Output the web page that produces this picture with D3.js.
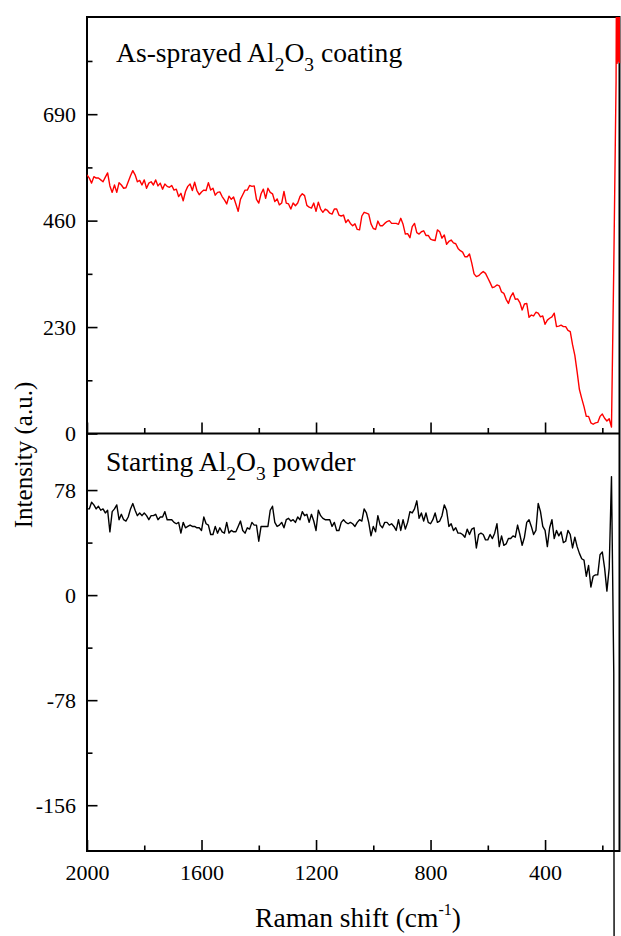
<!DOCTYPE html>
<html>
<head>
<meta charset="utf-8">
<style>
  body { margin: 0; background: #fff; }
  svg { display: block; }
  text { font-family: "Liberation Serif", "Times New Roman", serif; fill: #000; }
</style>
<title>Raman spectra</title>
</head>
<body>
<script src="https://cdn.jsdelivr.net/npm/d3@7/dist/d3.min.js"></script>
<script>

// Raman shift grid (cm-1): every 8 cm-1 from 2000 down to 152, then a finer tail to 140
var shift = d3.range(2000, 151, -8).concat([150, 148, 146, 144, 142, 140]);

// As-sprayed Al2O3 coating (red, upper panel)
var coating = [
  559,552,541,555,552,552,548,544,554,563,
  535,521,537,521,542,537,530,531,544,557,
  568,559,544,547,537,548,530,541,544,537,
  548,535,541,528,539,534,532,536,526,528,
  512,519,503,523,534,539,525,543,525,516,
  522,526,525,542,526,530,515,521,522,512,
  505,496,513,506,511,496,480,506,516,526,
  526,536,534,535,506,498,518,528,508,530,
  521,518,501,507,494,498,523,498,496,485,
  498,492,498,512,518,514,493,489,487,498,
  480,500,485,478,485,482,476,474,485,485,
  472,470,472,456,462,454,449,453,441,440,
  470,478,476,474,453,443,441,459,449,449,
  454,458,460,454,454,454,452,465,452,431,
  432,423,447,454,434,431,436,438,428,428,
  420,418,417,440,436,422,429,409,415,418,
  412,410,400,395,392,382,382,388,368,345,
  339,341,346,350,346,336,326,315,317,321,
  319,306,303,290,281,296,304,290,291,283,
  267,280,281,251,256,254,262,260,252,254,
  236,245,249,252,260,231,232,234,231,231,
  223,220,192,169,133,95,76,58,37,37,
  23,20,23,24,37,42,33,27,32,14,
  360,760,
  1100,800,1100,805,1100,800
];

// Starting Al2O3 powder (black, lower panel)
var powder = [
  64,64,69,67,64,66,63,64,61,63,
  47,62,64,67,56,60,56,55,58,64,
  68,63,59,61,59,61,59,56,59,59,
  60,56,58,58,62,56,56,56,54,53,
  54,46,54,50,51,52,51,51,50,50,
  48,58,53,52,45,45,51,46,50,47,
  46,54,46,48,47,47,51,55,48,46,
  50,49,54,52,52,40,51,51,51,51,
  63,66,54,51,52,54,50,56,57,55,
  56,54,58,56,62,59,60,54,60,55,
  48,63,59,57,56,56,56,51,54,48,
  48,54,56,54,53,54,53,51,54,56,
  55,64,61,54,44,51,47,59,52,50,
  54,54,52,53,51,48,56,48,56,49,
  54,62,61,64,70,57,61,55,61,54,
  53,56,61,54,55,59,67,63,51,53,
  48,50,46,46,45,43,49,45,49,50,
  35,45,46,45,41,41,45,42,46,53,
  36,44,37,38,42,42,44,43,52,45,
  37,43,54,56,51,45,48,68,62,51,
  48,36,50,56,42,48,44,47,39,40,
  48,45,35,43,36,31,27,26,14,22,
  6,14,15,15,30,32,20,3,20,88,
  -58,-1500,
  -1500,-1500,-1500,-1500,-1500,-1500
];

var xTicks = [2000, 1600, 1200, 800, 400];
var xMinor = [1800, 1400, 1000, 600, 200];
var topTicks = [0, 230, 460, 690];
var topMinor = [115, 345, 575, 805];
var botTicks = [78, 0, -78, -156];
var botMinor = [39, -39, -117];

var width = 621, height = 936;
var plotLeft = 87, plotRight = 619.5, plotTop = 17, plotMid = 433.5, plotBottom = 851;

var svg = d3.select("body").append("svg")
	.attr("width", width)
	.attr("height", height);

var x = d3.scaleLinear().domain([2000, 140]).range([plotLeft, plotRight]);
var yTop = d3.scaleLinear().domain([0, 900]).range([plotMid, plotTop]);
var yBot = d3.scaleLinear().domain([-190, 120]).range([plotBottom, plotMid]);

var fmt = function(d) { return String(d); };

function styleAxis(g) {
	g.select(".domain").remove();
	g.attr("font-family", '"Liberation Serif", "Times New Roman", serif')
	 .attr("font-size", 22);
	g.selectAll("line").attr("stroke-width", 1.6);
}

// Y AXES
function yAxis(scale, major, minor) {
	svg.append("g")
		.attr("transform", "translate(" + plotLeft + ",0)")
		.call(d3.axisLeft(scale).tickValues(minor).tickSize(-5.5).tickFormat(""))
		.call(styleAxis);
	svg.append("g")
		.attr("transform", "translate(" + plotLeft + ",0)")
		.call(d3.axisLeft(scale).tickValues(major).tickSize(-10.5).tickPadding(11).tickFormat(fmt))
		.call(styleAxis);
}
yAxis(yTop, topTicks, topMinor);
yAxis(yBot, botTicks, botMinor);

// X AXES (unlabelled under upper panel, labelled at bottom)
function xAxis(y0, labels) {
	svg.append("g")
		.attr("transform", "translate(0," + y0 + ")")
		.call(d3.axisBottom(x).tickValues(xMinor).tickSize(-5.5).tickFormat(""))
		.call(styleAxis);
	svg.append("g")
		.attr("transform", "translate(0," + y0 + ")")
		.call(d3.axisBottom(x).tickValues(xTicks).tickSize(-11).tickPadding(13)
			.tickFormat(labels ? fmt : ""))
		.call(styleAxis);
}
xAxis(plotMid, false);
xAxis(plotBottom, true);

// FRAME
svg.append("path")
	.attr("d", "M" + plotLeft + "," + plotTop + "H" + plotRight + "V" + plotBottom +
		"H" + plotLeft + "Z" + "M" + plotLeft + "," + plotMid + "H" + plotRight)
	.attr("fill", "none")
	.attr("stroke", "#000")
	.attr("stroke-width", 2);

// SPECTRA
svg.append("clipPath").attr("id", "clipTop")
	.append("rect")
	.attr("x", plotLeft).attr("y", plotTop)
	.attr("width", width - plotLeft).attr("height", plotMid - plotTop + 2);

var lineTop = d3.line()
	.x(function(d, i) { return x(shift[i]); })
	.y(function(d) { return yTop(d); });
var lineBot = d3.line()
	.x(function(d, i) { return x(shift[i]); })
	.y(function(d) { return yBot(d); });

svg.append("path")
	.datum(coating)
	.attr("clip-path", "url(#clipTop)")
	.attr("d", lineTop)
	.attr("fill", "none")
	.attr("stroke", "#ff0000")
	.attr("stroke-width", 1.4)
	.attr("stroke-linejoin", "round");

svg.append("path")
	.datum(powder)
	.attr("d", lineBot)
	.attr("fill", "none")
	.attr("stroke", "#000")
	.attr("stroke-width", 1.4)
	.attr("stroke-linejoin", "round");

// PANEL LABELS
function chem(xp, yp, before, after) {
	var t = svg.append("text").attr("x", xp).attr("y", yp).attr("font-size", 27.6);
	t.append("tspan").text(before + "Al");
	t.append("tspan").attr("font-size", 19.5).attr("dy", 9).text("2");
	t.append("tspan").attr("dy", -9).text("O");
	t.append("tspan").attr("font-size", 19.5).attr("dy", 9).text("3");
	t.append("tspan").attr("dy", -9).text(after);
}
chem(116, 62, "As-sprayed ", " coating");
chem(106, 471, "Starting ", " powder");

// AXIS TITLES
var xt = svg.append("text")
	.attr("x", 358).attr("y", 927)
	.attr("text-anchor", "middle")
	.attr("font-size", 27.5);
xt.append("tspan").text("Raman shift (cm");
xt.append("tspan").attr("font-size", 16).attr("dy", -12).text("-1");
xt.append("tspan").attr("dy", 12).text(")");

svg.append("text")
	.attr("transform", "translate(32,455) rotate(-90)")
	.attr("text-anchor", "middle")
	.attr("font-size", 25)
	.text("Intensity (a.u.)");

</script>
</body>
</html>
